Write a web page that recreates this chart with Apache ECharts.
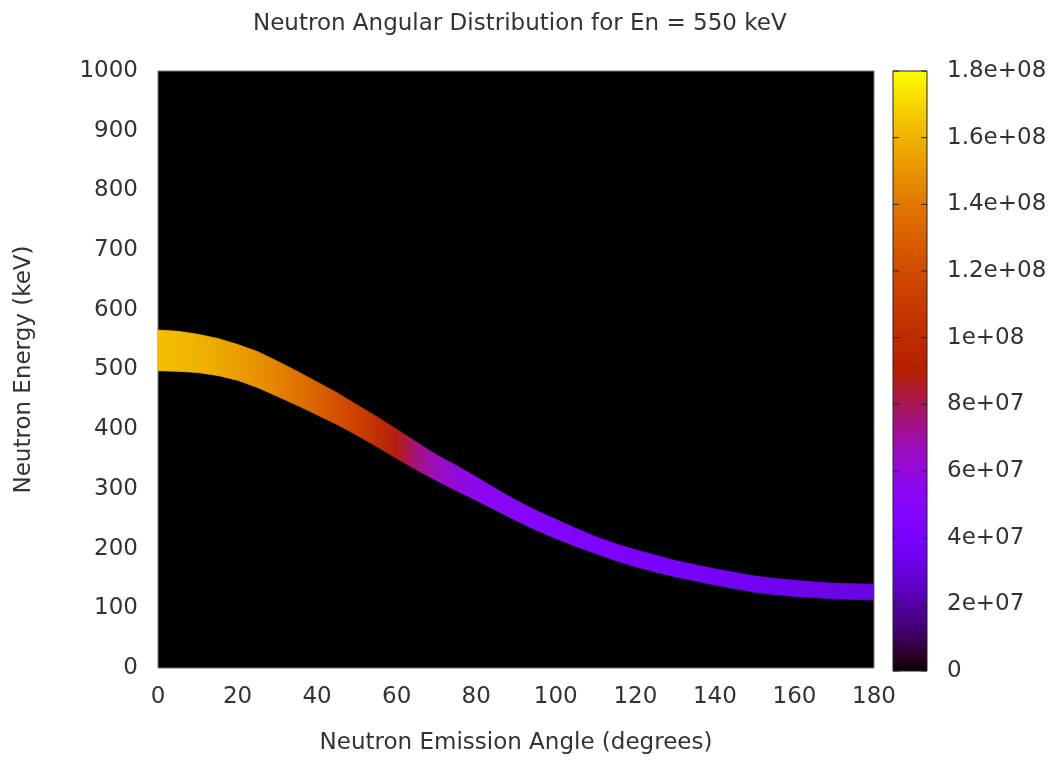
<!DOCTYPE html>
<html><head><meta charset="utf-8">
<script src="https://cdn.jsdelivr.net/npm/echarts@6/dist/echarts.min.js"></script>
<style>html,body{margin:0;padding:0;background:#fff}#c{width:1051px;height:760px}</style>
</head><body><div id="c"></div>
<script>
// Emission angle (degrees)
const angles = [0,5,10,15,20,25,30,35,40,45,50,55,60,65,70,75,80,85,90,95,100,105,110,115,120,125,130,135,140,145,150,155,160,165,170,175,180];
// Upper edge of the neutron band (keV)
const bandTop = [566,564,559,552,542,530,514,497,479,461,441,421,400,378,357,339,320,300,281,264,249,234,220,208,198,189,180,173,166,160,154,150,147,144,142,141,140];
// Lower edge of the neutron band (keV)
const bandBottom = [498,497,495,490,482,470,455,440,424,408,390,371,351,332,314,297,281,264,247,231,217,204,192,180,170,161,153,146,139,133,127,123,120,118,116,115,114];
// Intensity along the band
const intensity = [1.63e8,1.62e8,1.60e8,1.57e8,1.53e8,1.49e8,1.44e8,1.38e8,1.31e8,1.23e8,1.14e8,1.03e8,8.8e7,7.5e7,6.6e7,6.0e7,5.6e7,5.3e7,5.1e7,4.9e7,4.7e7,4.55e7,4.4e7,4.3e7,4.2e7,4.1e7,4.0e7,3.9e7,3.8e7,3.7e7,3.6e7,3.5e7,3.4e7,3.35e7,3.3e7,3.25e7,3.2e7];
// Colour bar range, tick values and tick labels
const cbRange = [0, 1.8e8];
const cbTickValues = [0,2e7,4e7,6e7,8e7,1e8,1.2e8,1.4e8,1.6e8,1.8e8];
const cbTickLabels = ['0','2e+07','4e+07','6e+07','8e+07','1e+08','1.2e+08','1.4e+08','1.6e+08','1.8e+08'];

const FONT = 'DejaVu Sans';
const TXT = '#333';

function pal(v){
  const g = Math.max(0, Math.min(1, (v - cbRange[0]) / (cbRange[1] - cbRange[0])));
  const r = Math.sqrt(g), gg = g*g*g, b = Math.max(0, Math.sin(2*Math.PI*g));
  return 'rgb(' + Math.round(r*255) + ',' + Math.round(gg*255) + ',' + Math.round(b*255) + ')';
}
const cbStops = [];
for (let k = 0; k <= 60; k++) { const t = k/60; cbStops.push({offset: t, color: pal(cbRange[1] - t*(cbRange[1]-cbRange[0]))}); }

const bandData = angles.map((a,i) => [a, bandTop[i], bandBottom[i], intensity[i]]);

const chart = echarts.init(document.getElementById('c'));
chart.setOption({
  animation: false,
  backgroundColor: '#fff',
  title: {
    text: 'Neutron Angular Distribution for En = 550 keV',
    left: 248, top: 8,
    textStyle: {fontFamily: FONT, fontSize: 23, fontWeight: 'normal', color: TXT}
  },
  grid: [
    {left: 158, top: 71, width: 716, height: 600, show: true, backgroundColor: '#000', borderColor: '#777', borderWidth: 1},
    {left: 893, top: 71, width: 34, height: 600, show: false}
  ],
  xAxis: [
    {type: 'value', gridIndex: 0, min: 0, max: 180, interval: 20,
     name: 'Neutron Emission Angle (degrees)', nameLocation: 'middle', nameGap: 64,
     nameTextStyle: {fontFamily: FONT, fontSize: 23, color: TXT},
     axisLine: {show: false}, axisTick: {show: false}, splitLine: {show: false},
     axisLabel: {fontFamily: FONT, fontSize: 23, color: TXT, margin: 18}},
    {type: 'value', gridIndex: 1, min: 0, max: 1, show: false}
  ],
  yAxis: [
    {type: 'value', gridIndex: 0, min: 0, max: 1000, interval: 100,
     name: 'Neutron Energy (keV)', nameLocation: 'middle', nameGap: 122,
     nameTextStyle: {fontFamily: FONT, fontSize: 23, color: TXT},
     axisLine: {show: false}, axisTick: {show: false}, splitLine: {show: false},
     axisLabel: {fontFamily: FONT, fontSize: 23, color: TXT, margin: 20, formatter: v => String(v)}},
    {type: 'value', gridIndex: 1, position: 'right', min: cbRange[0], max: cbRange[1], interval: 2e7,
     axisLine: {show: false}, splitLine: {show: false}, axisTick: {show: false},
     axisLabel: {fontFamily: FONT, fontSize: 23, color: TXT, margin: 20,
       formatter: (v, idx) => cbTickLabels[idx]}}
  ],
  series: [
    {
      type: 'custom', xAxisIndex: 0, yAxisIndex: 0, clip: true,
      data: bandData,
      encode: {x: 0, y: [1, 2]},
      renderItem: function (params, api) {
        const i = params.dataIndex;
        if (i >= bandData.length - 1) return null;
        const cur = bandData[i], nxt = bandData[i+1];
        const p1 = api.coord([cur[0], cur[1]]);
        const p2 = api.coord([nxt[0], nxt[1]]);
        const p3 = api.coord([nxt[0], nxt[2]]);
        const p4 = api.coord([cur[0], cur[2]]);
        const grad = new echarts.graphic.LinearGradient(p1[0], 0, p2[0], 0, [
          {offset: 0, color: pal(cur[3])}, {offset: 1, color: pal(nxt[3])}
        ], true);
        return {
          type: 'polygon',
          shape: {points: [p1, p2, p3, p4]},
          style: {fill: grad, stroke: grad, lineWidth: 0.8}
        };
      }
    },
    {
      type: 'custom', xAxisIndex: 1, yAxisIndex: 1,
      data: [[0, 1, cbRange[0], cbRange[1]]],
      renderItem: function (params, api) {
        const a = api.coord([api.value(0), api.value(3)]);
        const b = api.coord([api.value(1), api.value(2)]);
        const children = [{
          type: 'rect',
          shape: {x: a[0], y: a[1], width: b[0]-a[0], height: b[1]-a[1]},
          style: {fill: new echarts.graphic.LinearGradient(0, 0, 0, 1, cbStops), stroke: '#222', lineWidth: 1}
        }];
        cbTickValues.forEach(tv => {
          const l = api.coord([api.value(0), tv]);
          const r = api.coord([api.value(1), tv]);
          children.push({type: 'line', shape: {x1: l[0], y1: l[1], x2: l[0] + 6, y2: l[1]}, style: {stroke: '#222', lineWidth: 1}});
          children.push({type: 'line', shape: {x1: r[0] - 6, y1: r[1], x2: r[0], y2: r[1]}, style: {stroke: '#222', lineWidth: 1}});
        });
        return {type: 'group', children: children};
      }
    }
  ]
});
</script>
</body></html>
